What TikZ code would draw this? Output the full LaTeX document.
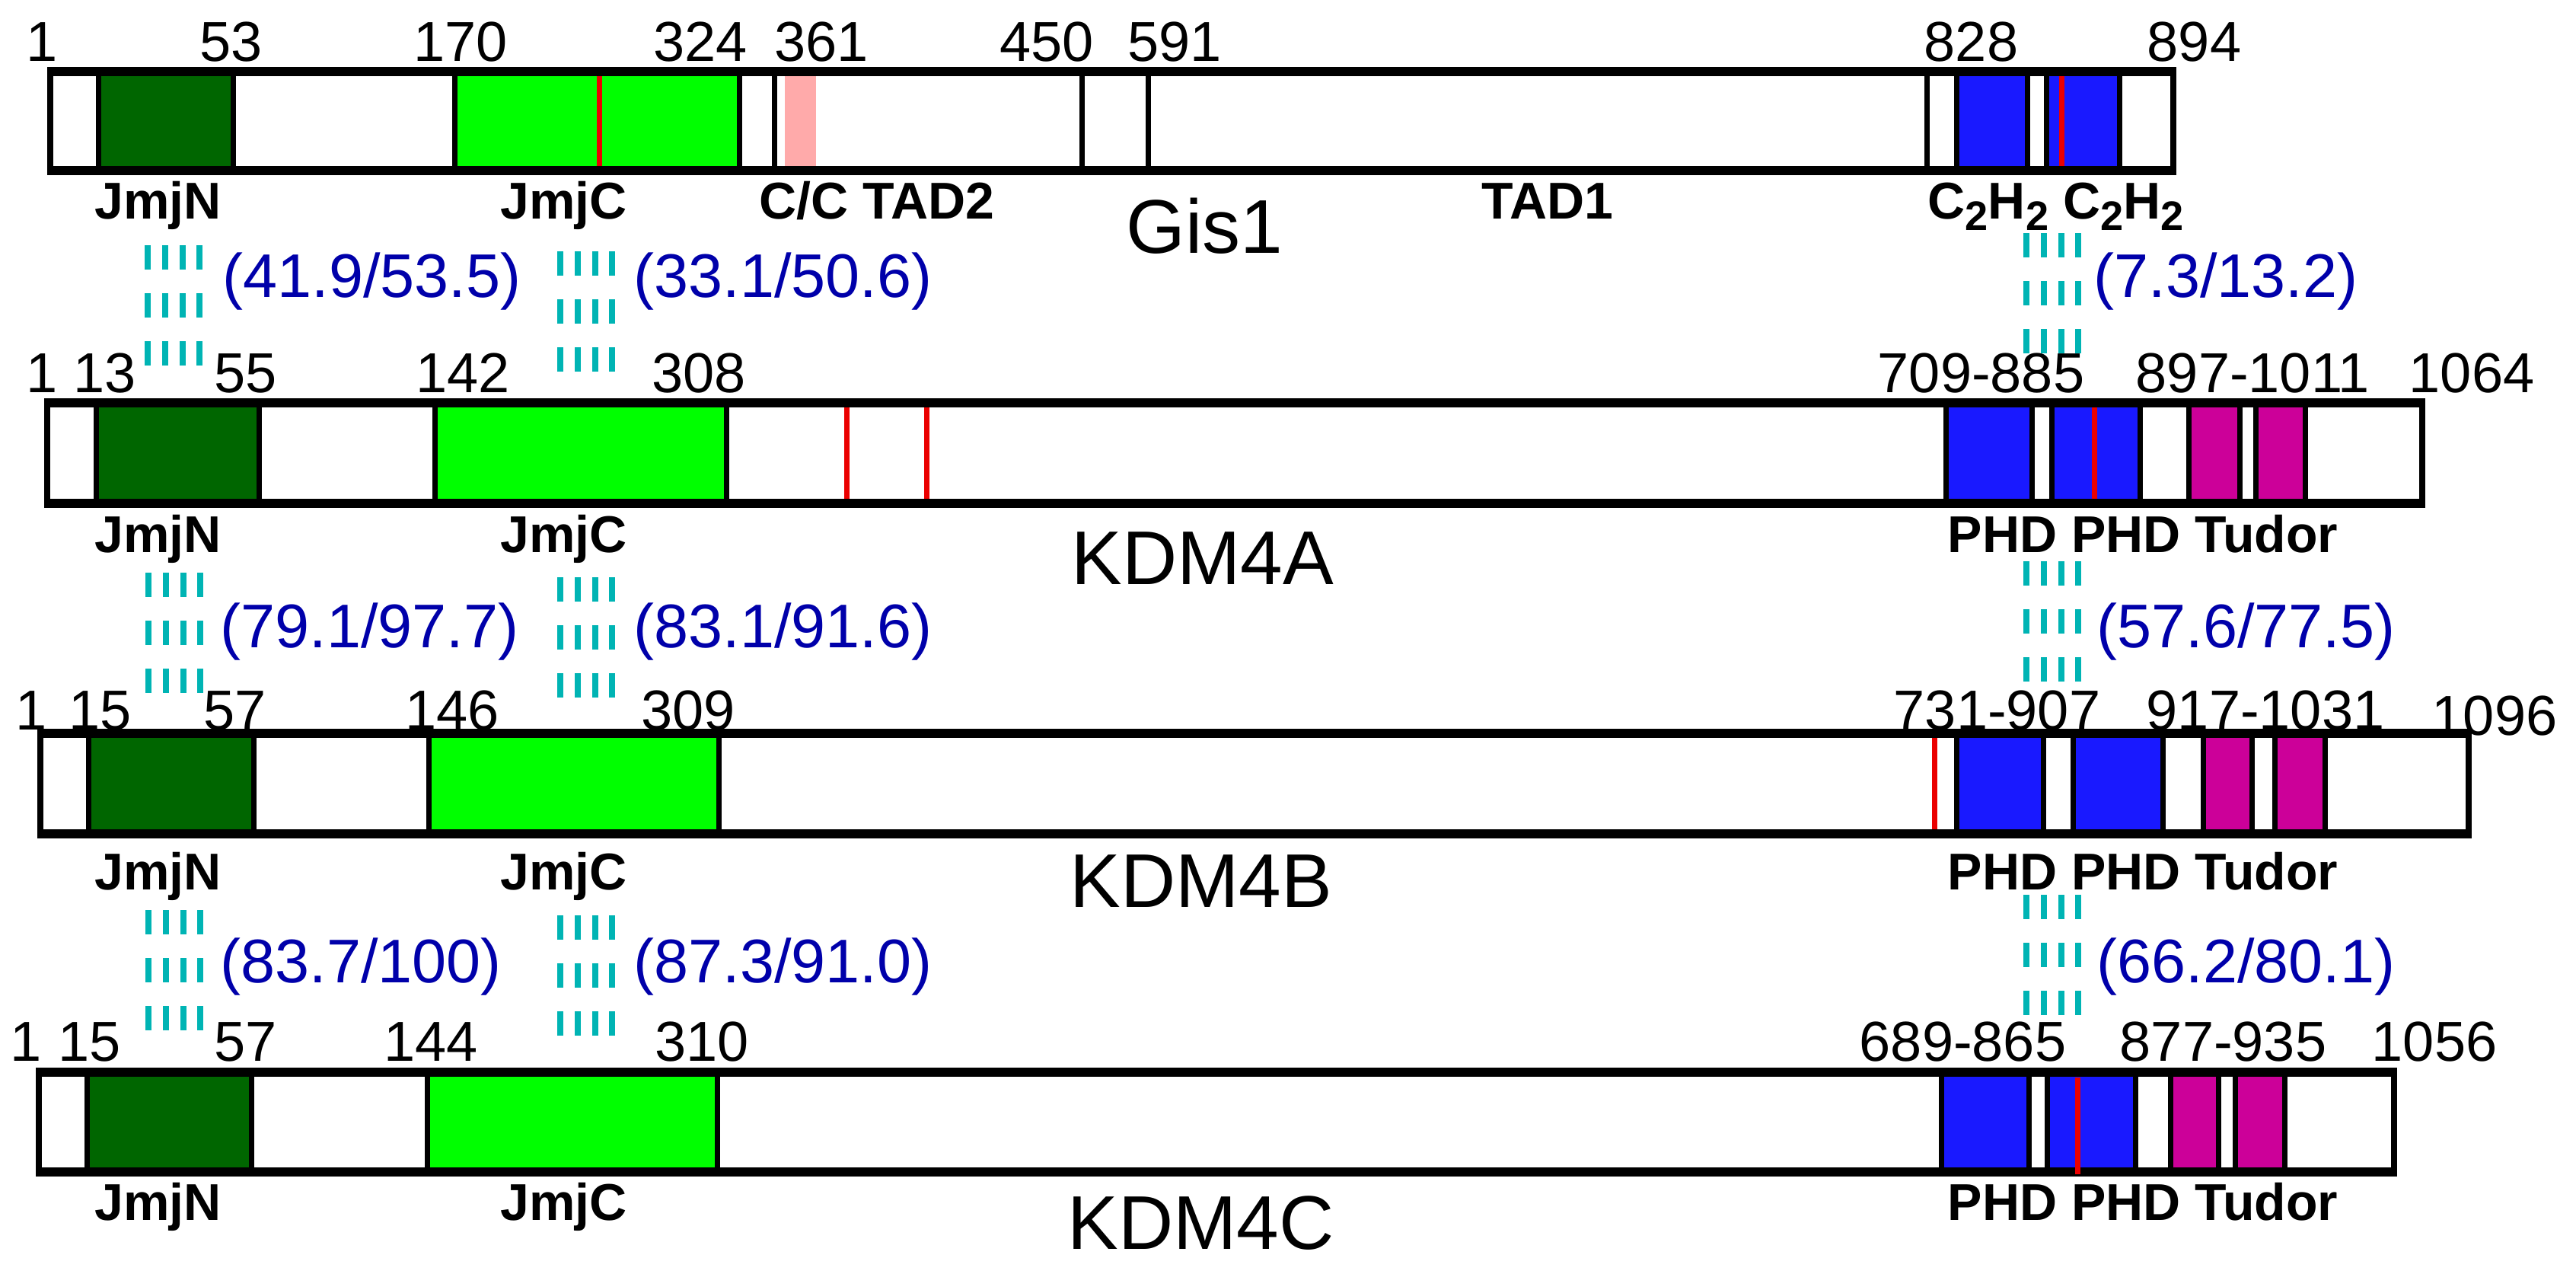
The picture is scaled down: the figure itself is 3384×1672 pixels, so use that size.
\documentclass[tikz,border=0pt]{standalone}
\usepackage{fontspec}
\setmainfont{Liberation Sans}
\definecolor{jmjn}{RGB}{0,102,0}
\definecolor{jmjc}{RGB}{0,255,0}
\definecolor{phd}{RGB}{25,25,255}
\definecolor{tudor}{RGB}{204,0,153}
\definecolor{ccpink}{RGB}{255,170,170}
\definecolor{mutred}{RGB}{235,0,0}
\definecolor{linkteal}{RGB}{0,180,180}
\definecolor{pctblue}{RGB}{0,0,170}
\newcommand\fnum{\fontsize{21.05pt}{21.05pt}\selectfont}
\newcommand\flab{\fontsize{19.35pt}{19.35pt}\selectfont\bfseries}
\newcommand\fname{\fontsize{28.45pt}{28.45pt}\selectfont}
\newcommand\fpct{\fontsize{23.05pt}{23.05pt}\selectfont}
\newcommand\subtwo{\raisebox{-1.5mm}{\fontsize{15.4pt}{15.4pt}\selectfont 2}}
\tikzset{
  num/.style={anchor=base west, inner sep=0pt, font=\fnum},
  lab/.style={anchor=base west, inner sep=0pt, font=\flab},
  pname/.style={anchor=base west, inner sep=0pt, font=\fname},
  pct/.style={anchor=base west, inner sep=0pt, font=\fpct, text=pctblue},
  dom/.style={draw=black, line width=0.7mm},
  mut/.style={draw=mutred, line width=0.7mm},
  sideline/.style={draw=black, line width=0.8mm},
  topline/.style={draw=black, line width=1.2mm},
  linkbar/.style={draw=linkteal, line width=0.8mm, line cap=butt, dash pattern=on 3.2mm off 3.1mm},
}
\begin{document}
\begin{tikzpicture}[x=0.1mm,y=-0.1mm]
\useasboundingbox (0,0) rectangle (3384,1672);

% ---------------- Row 1: Gis1 ----------------
\fill[white] (66,94) rectangle (2855,224);
\draw[dom,fill=jmjn] (129,94) rectangle (306,224);
\draw[dom,fill=jmjc] (597,94) rectangle (971,224);
\draw[dom,fill=white] (1017,94) rectangle (1421,224);
\fill[ccpink] (1031,100) rectangle (1072,218);
\draw[dom,fill=white] (1508,94) rectangle (2531,224);
\draw[dom,fill=phd] (2570,94) rectangle (2663,224);
\draw[dom,fill=phd] (2688,94) rectangle (2784,224);
\draw[mut] (787,97) -- (787,222);
\draw[mut] (2708,97) -- (2708,222);
\draw[sideline] (66,94) -- (66,224) (2855,94) -- (2855,224);
\draw[topline] (62,94) -- (2859,94) (62,224) -- (2859,224);

\node[num] (g1) at (34,80) {1};
\node[num] (g53) at (262,80) {53};
\node[num] (g170) at (543,80) {170};
\node[num] (g324) at (858,80) {324};
\node[num] (g361) at (1017,80) {361};
\node[num] (g450) at (1313,80) {450};
\node[num] (g591) at (1481,80) {591};
\node[num] (g828) at (2527,80) {828};
\node[num] (g894) at (2820,80) {894};

\node[lab] (gjn) at (124,287) {JmjN};
\node[lab] (gjc) at (657,287) {JmjC};
\node[lab] (gtad2) at (997,287) {C/C TAD2};
\node[lab] (gtad1) at (1946,287) {TAD1};
\node[lab] (gzf) at (2532,287) {C\subtwo H\subtwo\ C\subtwo H\subtwo};
\node[pname] (gis) at (1479,332) {Gis1};

% ---------------- Row 2: KDM4A ----------------
\fill[white] (62,529) rectangle (3182,661);
\draw[dom,fill=jmjn] (126,529) rectangle (340,661);
\draw[dom,fill=jmjc] (571,529) rectangle (954,661);
\draw[dom,fill=phd] (2556,529) rectangle (2669,661);
\draw[dom,fill=phd] (2695,529) rectangle (2811,661);
\draw[dom,fill=tudor] (2875,529) rectangle (2942,661);
\draw[dom,fill=tudor] (2963,529) rectangle (3028,661);
\draw[mut] (1112,532) -- (1112,662);
\draw[mut] (1217,532) -- (1217,662);
\draw[mut] (2751,534) -- (2751,662);
\draw[sideline] (62,529) -- (62,661) (3182,529) -- (3182,661);
\draw[topline] (58,529) -- (3186,529) (58,661) -- (3186,661);

\node[num] (a1) at (34,515) {1};
\node[num] (a13) at (96,515) {13};
\node[num] (a55) at (281,515) {55};
\node[num] (a142) at (546,515) {142};
\node[num] (a308) at (856,515) {308};
\node[num] (a709) at (2466,515) {709-885};
\node[num] (a897) at (2805,515) {897-1011};
\node[num] (a1064) at (3164,515) {1064};

\node[lab] (ajn) at (124,725) {JmjN};
\node[lab] (ajc) at (657,725) {JmjC};
\node[lab] (aphd) at (2558,725) {PHD PHD Tudor};
\node[pname] (kdma) at (1407,767) {KDM4A};

% ---------------- Row 3: KDM4B ----------------
\fill[white] (53,963) rectangle (3243,1095);
\draw[dom,fill=jmjn] (116,963) rectangle (333,1095);
\draw[dom,fill=jmjc] (563,963) rectangle (944,1095);
\draw[dom,fill=phd] (2570,963) rectangle (2684,1095);
\draw[dom,fill=phd] (2723,963) rectangle (2841,1095);
\draw[dom,fill=tudor] (2894,963) rectangle (2958,1095);
\draw[dom,fill=tudor] (2988,963) rectangle (3054,1095);
\draw[mut] (2541,966) -- (2541,1093);
\draw[sideline] (53,963) -- (53,1095) (3243,963) -- (3243,1095);
\draw[topline] (49,963) -- (3247,963) (49,1095) -- (3247,1095);

\node[num] (b1) at (20,958) {1};
\node[num] (b15) at (90,958) {15};
\node[num] (b57) at (267,958) {57};
\node[num] (b146) at (532,958) {146};
\node[num] (b309) at (842,958) {309};
\node[num] (b731) at (2487,958) {731-907};
\node[num] (b917) at (2819,958) {917-1031};
\node[num] (b1096) at (3194,965) {1096};

\node[lab] (bjn) at (124,1168) {JmjN};
\node[lab] (bjc) at (657,1168) {JmjC};
\node[lab] (bphd) at (2558,1168) {PHD PHD Tudor};
\node[pname] (kdmb) at (1405,1191) {KDM4B};

% ---------------- Row 4: KDM4C ----------------
\fill[white] (51,1408) rectangle (3145,1539);
\draw[dom,fill=jmjn] (114,1408) rectangle (330,1539);
\draw[dom,fill=jmjc] (561,1408) rectangle (942,1539);
\draw[dom,fill=phd] (2550,1408) rectangle (2665,1539);
\draw[dom,fill=phd] (2689,1408) rectangle (2805,1539);
\draw[dom,fill=tudor] (2851,1408) rectangle (2914,1539);
\draw[dom,fill=tudor] (2936,1408) rectangle (3001,1539);
\draw[sideline] (51,1408) -- (51,1539) (3145,1408) -- (3145,1539);
\draw[topline] (47,1408) -- (3149,1408) (47,1539) -- (3149,1539);
\draw[mut] (2729,1415) -- (2729,1542);

\node[num] (c1) at (13,1393) {1};
\node[num] (c15) at (76,1393) {15};
\node[num] (c57) at (281,1393) {57};
\node[num] (c144) at (504,1393) {144};
\node[num] (c310) at (860,1393) {310};
\node[num] (c689) at (2442,1393) {689-865};
\node[num] (c877) at (2784,1393) {877-935};
\node[num] (c1056) at (3115,1393) {1056};

\node[lab] (cjn) at (124,1602) {JmjN};
\node[lab] (cjc) at (657,1602) {JmjC};
\node[lab] (cphd) at (2558,1602) {PHD PHD Tudor};
\node[pname] (kdmc) at (1402,1640) {KDM4C};

% ---------------- Identity / similarity links ----------------
\coordinate (n1s) at (228,322);  \coordinate (n1e) at (228,480);
\coordinate (c1s) at (770,330);  \coordinate (c1e) at (770,488);
\coordinate (z1s) at (2696,306); \coordinate (z1e) at (2696,464);
\coordinate (n2s) at (229,752);  \coordinate (n2e) at (229,910);
\coordinate (c2s) at (770,758);  \coordinate (c2e) at (770,916);
\coordinate (z2s) at (2696,737); \coordinate (z2e) at (2696,895);
\coordinate (n3s) at (229,1195); \coordinate (n3e) at (229,1353);
\coordinate (c3s) at (770,1202); \coordinate (c3e) at (770,1360);
\coordinate (z3s) at (2696,1175);\coordinate (z3e) at (2696,1333);
\foreach \l in {n1,c1,z1,n2,c2,z2,n3,c3,z3}{
  \foreach \o in {-3.4,-1.15,1.15,3.4}{
    \draw[linkbar] ([xshift=\o mm]\l s) -- ([xshift=\o mm]\l e);
  }
}

\node[pct] (p1) at (292,390) {(41.9/53.5)};
\node[pct] (p2) at (832,390) {(33.1/50.6)};
\node[pct] (p3) at (2750,390) {(7.3/13.2)};
\node[pct] (p4) at (289,850) {(79.1/97.7)};
\node[pct] (p5) at (832,850) {(83.1/91.6)};
\node[pct] (p6) at (2754,850) {(57.6/77.5)};
\node[pct] (p7) at (289,1290) {(83.7/100)};
\node[pct] (p8) at (832,1290) {(87.3/91.0)};
\node[pct] (p9) at (2754,1290) {(66.2/80.1)};
\end{tikzpicture}
\end{document}
